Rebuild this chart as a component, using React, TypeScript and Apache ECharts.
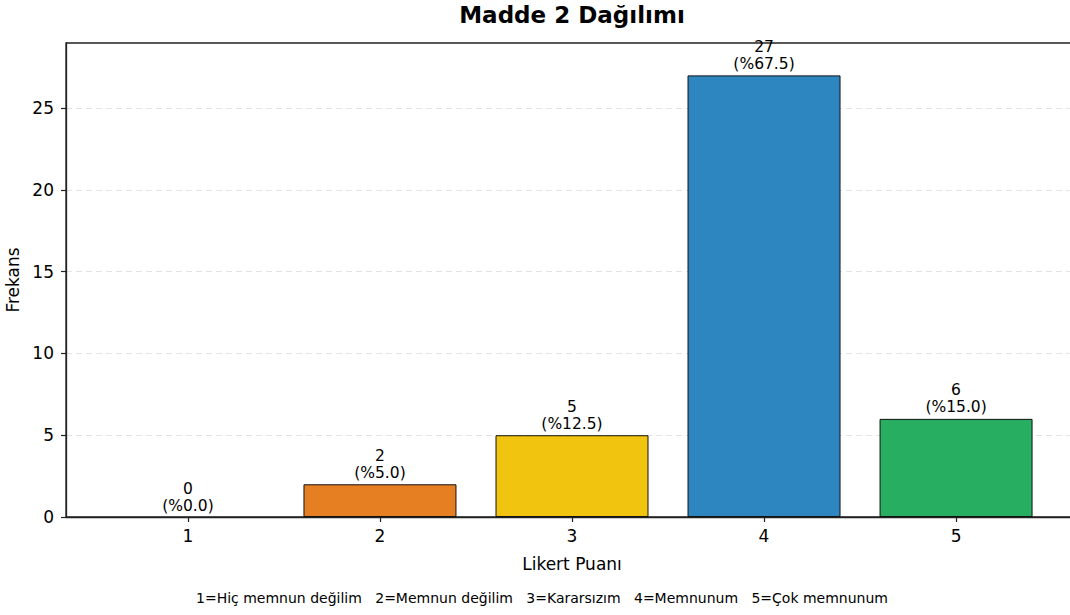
import React, { useEffect, useRef } from "react";
import * as echarts from "echarts";

const categories = ["1", "2", "3", "4", "5"];
const counts = [0, 2, 5, 27, 6];
const percents = ["0.0", "5.0", "12.5", "67.5", "15.0"];
const barColors = ["#e74c3c", "#e67e22", "#f1c40f", "#2e86c1", "#27ae60"];
const yTicks = [0, 5, 10, 15, 20, 25];
const titleText = "Madde 2 Dağılımı";
const xName = "Likert Puanı";
const yName = "Frekans";
const footnote = "1=Hiç memnun değilim   2=Memnun değilim   3=Kararsızım   4=Memnunum   5=Çok memnunum";

const FONT = "DejaVu Sans";

export default function App() {
  const ref = useRef<HTMLDivElement>(null);
  useEffect(() => {
    if (!ref.current) return;
    const chart = echarts.init(ref.current, null, { renderer: "svg" });
    const xVals = categories.map((c) => Number(c));
    chart.setOption({
      animation: false,
      backgroundColor: "#ffffff",
      textStyle: { fontFamily: FONT },
      grid: {
        left: 66,
        top: 43,
        bottom: 98,
        right: 12,
        containLabel: false,
        outerBoundsMode: "none",
        show: true,
        borderColor: "#222",
        borderWidth: 1.3,
        backgroundColor: "transparent",
      },
      graphic: [
        {
          type: "text",
          x: 572,
          y: 3,
          style: {
            text: titleText,
            font: `bold 23px "${FONT}"`,
            fill: "#000",
            textAlign: "center",
            textVerticalAlign: "top",
          },
        },
        {
          type: "text",
          x: 542,
          y: 598,
          style: {
            text: footnote,
            font: `14px "${FONT}"`,
            fill: "#000",
            textAlign: "center",
            textVerticalAlign: "middle",
          },
        },
      ],
      xAxis: {
        type: "value",
        min: 0.365,
        max: 5.635,
        name: xName,
        nameLocation: "middle",
        nameGap: 38,
        nameTextStyle: { fontSize: 17, color: "#000", fontFamily: FONT },
        splitLine: { show: false },
        axisLine: { show: true, onZero: false, lineStyle: { color: "#222", width: 1.3 } },
        axisTick: {
          show: true,
          length: 5,
          customValues: xVals,
          lineStyle: { color: "#222", width: 1.2 },
        },
        axisLabel: {
          customValues: xVals,
          fontSize: 17,
          color: "#000",
          margin: 10,
          fontFamily: FONT,
          formatter: (v: number) => String(v),
        },
      },
      yAxis: {
        type: "value",
        min: 0,
        max: 28.98,
        interval: 5,
        name: yName,
        nameLocation: "middle",
        nameGap: 39,
        nameTextStyle: { fontSize: 17, color: "#000", fontFamily: FONT },
        axisLine: { show: true, lineStyle: { color: "#222", width: 1.3 } },
        axisTick: {
          show: true,
          length: 5,
          customValues: yTicks,
          lineStyle: { color: "#222", width: 1.2 },
        },
        axisLabel: {
          customValues: yTicks,
          fontSize: 17,
          color: "#000",
          margin: 12,
          fontFamily: FONT,
        },
        splitLine: {
          show: true,
          lineStyle: { color: "#e3e3e3", type: [6, 4], width: 1 },
        },
      },
      series: [
        {
          type: "bar",
          barWidth: 153,
          data: categories.map((c, i) => ({
            value: [Number(c), counts[i]],
            itemStyle: {
              color: barColors[i],
              borderColor: "#111",
              borderWidth: counts[i] === 0 ? 0 : 1,
            },
          })),
          label: {
            show: true,
            position: "top",
            distance: 3,
            fontSize: 15.5,
            lineHeight: 17,
            color: "#000",
            fontFamily: FONT,
            align: "center",
            formatter: (p: any) => `${counts[p.dataIndex]}\n(%${percents[p.dataIndex]})`,
          },
        },
      ],
    });
    return () => chart.dispose();
  }, []);
  return (
    <div style={{ position: "fixed", left: 0, top: 0, width: 1070, height: 615, overflow: "hidden", background: "#fff" }}>
      <div ref={ref} style={{ width: 1090, height: 615 }} />
    </div>
  );
}
